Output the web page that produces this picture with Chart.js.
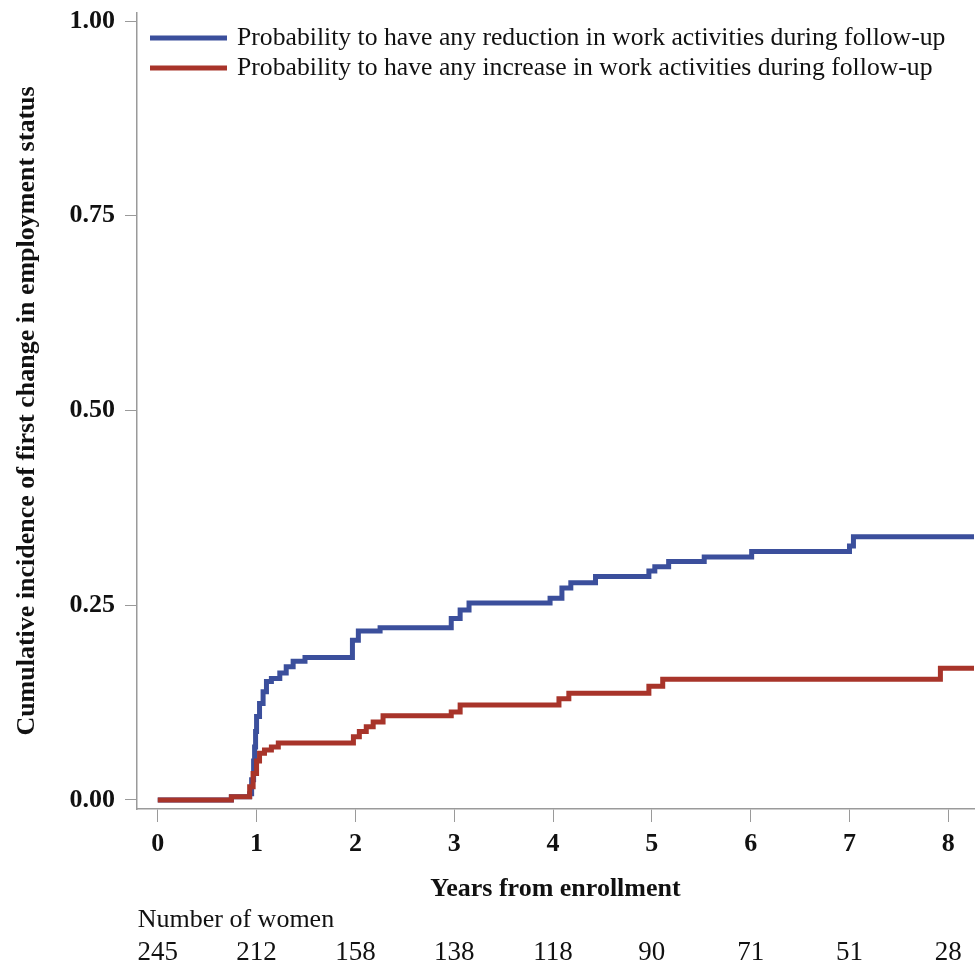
<!DOCTYPE html>
<html>
<head>
<meta charset="utf-8">
<title>Cumulative incidence of first change in employment status</title>
<script src="https://cdn.jsdelivr.net/npm/chart.js@4.4.0/dist/chart.umd.min.js"></script>
<style>
    html, body { margin: 0; padding: 0; background: #fff; }
    canvas { display: block; }
</style>
</head>
<body>
<canvas id="incidenceChart" width="977" height="965"></canvas>
<script>
// Step times (years) and cumulative incidence
const reductionYears = [0, 0.745, 0.93, 0.95, 0.97, 0.98, 0.99, 1.0, 1.03, 1.066, 1.1, 1.15, 1.235, 1.3, 1.37, 1.49,
    1.97, 2.03, 2.25, 2.97, 3.06, 3.15, 3.97, 4.09, 4.18, 4.43, 4.97, 5.03, 5.17, 5.53, 6.01, 7.0, 7.04, 8.26];
const reductionIncidence = [0, 0.004, 0.008, 0.026, 0.05, 0.068, 0.088, 0.107, 0.124, 0.139, 0.152, 0.156, 0.163, 0.171, 0.178, 0.183,
    0.205, 0.217, 0.221, 0.233, 0.244, 0.253, 0.259, 0.272, 0.279, 0.287, 0.294, 0.2995, 0.306, 0.312, 0.319, 0.326, 0.338, 0.338];

const increaseYears = [0, 0.745, 0.93, 0.965, 1.0, 1.03, 1.08, 1.15, 1.22, 1.98, 2.04, 2.11, 2.18, 2.28,
    2.97, 3.06, 4.06, 4.16, 4.97, 5.11, 7.92, 8.26];
const increaseIncidence = [0, 0.004, 0.017, 0.034, 0.05, 0.06, 0.064, 0.068, 0.073, 0.081, 0.088, 0.094, 0.1, 0.108,
    0.113, 0.122, 0.13, 0.137, 0.146, 0.155, 0.169, 0.169];

const seriesLabels = [
    'Probability to have any reduction in work activities during follow-up',
    'Probability to have any increase in work activities during follow-up'
];
const seriesColors = ['#3b4f9c', '#a8342a'];

const xTicks = [0, 1, 2, 3, 4, 5, 6, 7, 8];
const yTicks = [0, 0.25, 0.5, 0.75, 1];

// number at risk table under the axis
const atRiskTitle = 'Number of women';
const atRiskYears = [0, 1, 2, 3, 4, 5, 6, 7, 8];
const atRiskCounts = [245, 212, 158, 138, 118, 90, 71, 51, 28];

const SERIF = "'Liberation Serif', 'Times New Roman', serif";
const AXIS_GREY = '#9a9a9a';
const TEXT_COLOR = '#111';

function toPoints(xs, ys) {
    return xs.map((x, i) => ({ x: x, y: ys[i] }));
}

// legend drawn inside the plot, top-left, like the original figure
const insideLegend = {
    id: 'insideLegend',
    afterDraw(chart) {
        const { ctx, chartArea } = chart;
        ctx.save();
        ctx.font = '25.7px ' + SERIF;
        ctx.textBaseline = 'middle';
        chart.data.datasets.forEach((ds, i) => {
            const y = chartArea.top + 25 + i * 30;
            const x0 = chartArea.left + 13;
            ctx.fillStyle = ds.borderColor;
            ctx.fillRect(x0, y - 2.5, 77, 5);
            ctx.fillStyle = TEXT_COLOR;
            ctx.fillText(ds.label, x0 + 87, y);
        });
        ctx.restore();
    }
};

// "Number of women" row, aligned on the x scale
const atRiskTable = {
    id: 'atRiskTable',
    afterDraw(chart) {
        const { ctx } = chart;
        const xScale = chart.scales.x;
        ctx.save();
        ctx.font = '26px ' + SERIF;
        ctx.fillStyle = TEXT_COLOR;
        ctx.textBaseline = 'middle';
        ctx.textAlign = 'left';
        ctx.fillText(atRiskTitle, xScale.getPixelForValue(0) - 20, 920);
        ctx.font = '27px ' + SERIF;
        ctx.textAlign = 'center';
        atRiskYears.forEach((yr, i) => {
            ctx.fillText(String(atRiskCounts[i]), xScale.getPixelForValue(yr), 953);
        });
        ctx.restore();
    }
};

const ctx = document.getElementById('incidenceChart').getContext('2d');

new Chart(ctx, {
    type: 'line',
    data: {
        datasets: [
            {
                label: seriesLabels[0],
                data: toPoints(reductionYears, reductionIncidence),
                borderColor: seriesColors[0],
                backgroundColor: seriesColors[0],
                borderWidth: 5,
                stepped: true,
                pointRadius: 0,
                fill: false,
                order: 1
            },
            {
                label: seriesLabels[1],
                data: toPoints(increaseYears, increaseIncidence),
                borderColor: seriesColors[1],
                backgroundColor: seriesColors[1],
                borderWidth: 5,
                stepped: true,
                pointRadius: 0,
                fill: false,
                order: 0
            }
        ]
    },
    options: {
        responsive: false,
        animation: false,
        devicePixelRatio: 1,
        layout: { padding: { top: 13, right: 3, bottom: 0, left: 0 } },
        scales: {
            x: {
                type: 'linear',
                min: -0.21,
                max: 8.26,
                afterBuildTicks: scale => { scale.ticks = xTicks.map(v => ({ value: v })); },
                afterFit: scale => {
                    scale.height = 156;
                    scale.paddingLeft = 0;
                    scale.paddingRight = 0;
                },
                grid: { drawOnChartArea: false, color: AXIS_GREY, tickLength: 13 },
                border: { color: AXIS_GREY, width: 1.5 },
                ticks: {
                    color: TEXT_COLOR,
                    padding: 7,
                    maxRotation: 0,
                    font: { family: SERIF, size: 26, weight: 'bold' }
                },
                title: {
                    display: true,
                    text: 'Years from enrollment',
                    color: TEXT_COLOR,
                    font: { family: SERIF, size: 26, weight: 'bold' },
                    padding: { top: 0, bottom: 60 }
                }
            },
            y: {
                type: 'linear',
                min: -0.0116,
                max: 1.0103,
                afterBuildTicks: scale => { scale.ticks = yTicks.map(v => ({ value: v })); },
                afterFit: scale => {
                    scale.width = 137;
                    scale.paddingTop = 0;
                    scale.paddingBottom = 0;
                },
                grid: { drawOnChartArea: false, color: AXIS_GREY, tickLength: 12 },
                border: { color: AXIS_GREY, width: 1.5 },
                ticks: {
                    color: TEXT_COLOR,
                    padding: 10,
                    font: { family: SERIF, size: 26, weight: 'bold', lineHeight: 1 },
                    callback: v => Number(v).toFixed(2)
                },
                title: {
                    display: true,
                    text: 'Cumulative incidence of first change in employment status',
                    color: TEXT_COLOR,
                    font: { family: SERIF, size: 26, weight: 'bold' },
                    padding: { top: 12, bottom: 0 }
                }
            }
        },
        plugins: {
            legend: { display: false },
            tooltip: { enabled: false }
        }
    },
    plugins: [insideLegend, atRiskTable]
});
</script>
</body>
</html>
